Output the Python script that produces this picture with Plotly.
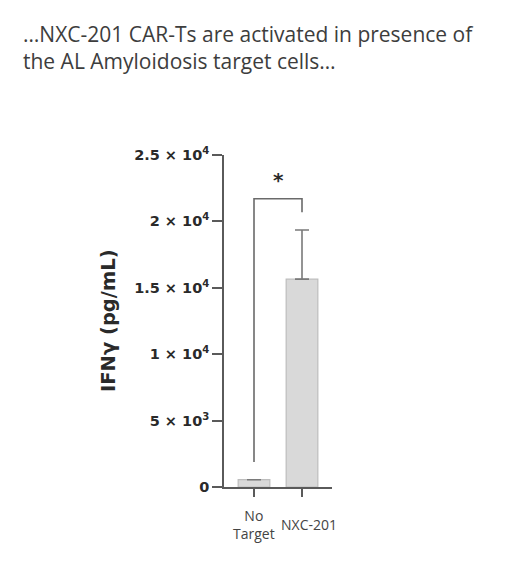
import plotly.graph_objects as go

categories = ["No Target", "NXC-201"]
category_labels = ["No<br>Target", "NXC-201"]
means = [550, 15650]
sds = [0, 3700]
ytick_vals = [0, 5000, 10000, 15000, 20000, 25000]
ytick_text = ["0", "5 × 10<sup>3</sup>", "1 × 10<sup>4</sup>", "1.5 × 10<sup>4</sup>",
              "2 × 10<sup>4</sup>", "2.5 × 10<sup>4</sup>"]
title_text = "…NXC-201 CAR-Ts are activated in presence of<br>the AL Amyloidosis target cells…"
y_title = "IFNγ (pg/mL)"
sig_label = "*"

OFF = 8  # page body margin
W, H = 515 - OFF, 563 - OFF
L, T = 224 - OFF, 155 - OFF
PW, PH = 108, 332
R, B = W - L - PW, H - T - PH

def px_x(x):  # page pixel -> paper x
    return (x - 224) / PW

def px_y(y):  # page pixel -> paper y
    return (487 - y) / PH

xpos = list(range(len(categories)))
fig = go.Figure()
fig.add_trace(go.Bar(
    x=xpos, y=means, width=0.66,
    marker=dict(color="#d9d9d9", line=dict(color="#bdbdbd", width=1.2)),
    error_y=dict(type="data", symmetric=False, array=sds, arrayminus=[0] * len(sds),
                 color="#7a7a7a", thickness=1.6, width=7),
    showlegend=False,
))

# significance bracket
tops = [m + s for m, s in zip(means, sds)]
bracket_top = max(tops) + 2350
leg_ends = [t + 1330 for t in tops]
fig.add_shape(type="path", xref="x", yref="y",
              path=f"M 0,{leg_ends[0]} L 0,{bracket_top} L 1,{bracket_top} L 1,{leg_ends[1]}",
              line=dict(color="#6a6a6a", width=1.6))
fig.add_annotation(x=0.5, y=bracket_top + 1450, xref="x", yref="y", text=f"<b>{sig_label}</b>",
                   showarrow=False, font=dict(family="DejaVu Sans", size=20, color="#2a2a2a"))

# category labels
label_shift = [0, 7]
for i, lab in enumerate(category_labels):
    fig.add_annotation(x=i, y=0, xref="x", yref="y", text=lab, showarrow=False,
                       yanchor="middle", yshift=-37, xshift=label_shift[i],
                       font=dict(family="Open Sans", size=14, color="#444"))

# y title
fig.add_annotation(x=px_x(108), y=px_y(320),
                   xref="paper", yref="paper", text=f"<b>{y_title}</b>", textangle=-90,
                   showarrow=False, xanchor="center", yanchor="middle",
                   font=dict(family="DejaVu Sans", size=19.5, color="#2a2a2a"))

# chart heading
fig.add_annotation(x=px_x(21), y=px_y(18), xref="paper", yref="paper", text=title_text,
                   showarrow=False, xanchor="left", yanchor="top", align="left",
                   font=dict(family="Open Sans", size=21, color="#3d3d3d"))

fig.update_layout(
    width=W, height=H, margin=dict(l=L, r=R, t=T, b=B),
    plot_bgcolor="white", paper_bgcolor="white",
)
fig.update_xaxes(range=[-0.625, 1.625], showline=True, linecolor="#5a5a5a", linewidth=1.6,
                 ticks="outside", tickvals=xpos, ticklen=8, tickwidth=1.6, tickcolor="#5a5a5a",
                 showticklabels=False, showgrid=False, zeroline=False, fixedrange=True)
fig.update_yaxes(range=[0, 25000], showline=True, linecolor="#5a5a5a", linewidth=1.6,
                 ticks="outside", tickvals=ytick_vals, ticktext=ytick_text, ticklen=10,
                 tickwidth=1.6, tickcolor="#5a5a5a", showgrid=False, zeroline=False,
                 tickfont=dict(family="DejaVu Sans", size=14.5, color="#2a2a2a", weight="bold"),
                 fixedrange=True)

fig.write_html("out.html")
